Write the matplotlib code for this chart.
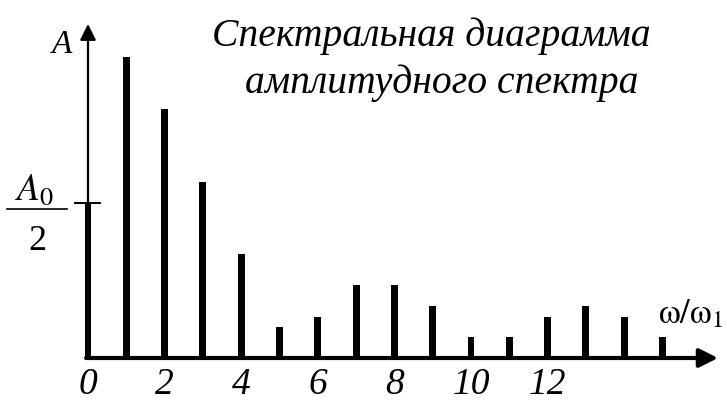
import matplotlib
matplotlib.use('Agg')
import matplotlib.pyplot as plt

# Данные спектра (амплитуды гармоник, A0/2 = первая линия)
harmonics = list(range(16))
amplitudes = [155, 301, 249, 176, 104, 31, 41, 73, 73, 52, 21, 21, 41, 52, 41, 21]
tick_values = [0, 2, 4, 6, 8, 10, 12]
tick_labels = ['0', '2', '4', '6', '8', '10', '12']
title_lines = ['Спектральная диаграмма', 'амплитудного спектра']

plt.rcParams['mathtext.fontset'] = 'stix'
serif = 'Liberation Serif'

fig = plt.figure(figsize=(7.27, 4.03), dpi=100)
ax = fig.add_axes([0, 0, 1, 1])
# 1 гармоника = 38.3 px, ось Y на 88 px, базовая линия на 358 px
step = 38.3
ax.set_xlim(-88 / step, (727 - 88) / step)
ax.set_ylim(-45, 358)
ax.axis('off')

ax.bar(harmonics, amplitudes, width=0.18, color='black', align='center')

# оси со стрелками
ax.annotate('', xy=(16.45, 0), xytext=(-0.05, 0), annotation_clip=False,
            arrowprops=dict(arrowstyle='-|>', lw=3, color='black', mutation_scale=28,
                            shrinkA=0, shrinkB=0))
ax.annotate('', xy=(0, 334), xytext=(0, 0), annotation_clip=False,
            arrowprops=dict(arrowstyle='-|>', lw=1.6, color='black', mutation_scale=24,
                            shrinkA=0, shrinkB=0))

# засечка A0/2
ax.plot([-13 / step, 12 / step], [amplitudes[0], amplitudes[0]], color='black', lw=1.4)

# подписи делений
for v, lab in zip(tick_values, tick_labels):
    ax.text(v, -27, lab, ha='center', va='center', fontsize=27,
            family=serif, style='italic')

# подписи осей
ax.text(-26 / step, 313, 'A', ha='center', va='center', fontsize=24,
        family=serif, style='italic')
ax.text(-53 / step, 168, r'$A_0$', ha='center', va='center', fontsize=27)
ax.plot([-81 / step, -21 / step], [149, 149], color='black', lw=1.2)
ax.text(-51 / step, 116, '2', ha='center', va='center', fontsize=26, family=serif)
ax.text(603 / step, 45, r'$\mathrm{\omega}/\mathrm{\omega}_1$', ha='center',
        va='center', fontsize=25)

# заголовок
ax.text((431 - 88) / step, 322, title_lines[0], ha='center', va='center',
        fontsize=28.5, family=serif, style='italic')
ax.text((442 - 88) / step, 275, title_lines[1], ha='center', va='center',
        fontsize=28.5, family=serif, style='italic')

fig.savefig('out.png', dpi=100)
